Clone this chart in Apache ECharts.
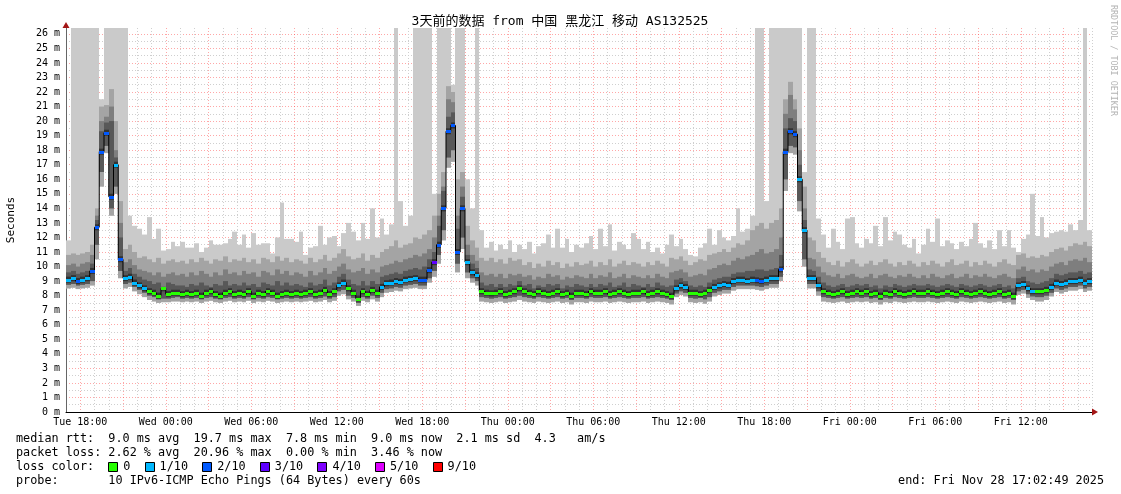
<!DOCTYPE html>
<html>
<head>
<meta charset="utf-8">
<script src="https://cdn.jsdelivr.net/npm/echarts@6/dist/echarts.min.js"></script>
<style>
html, body { margin: 0; padding: 0; background: #fff; }
#chart { width: 1121px; height: 494px; }
</style>
</head>
<body>
<div id="chart"></div>
<script>
// hours counted from Tue 00:00, 20 minute buckets over 3 days
const START_HOUR = 17;
const END_HOUR = 89;
const BUCKET_H = 1 / 3;
const dayNames = ['Tue', 'Wed', 'Thu', 'Fri'];

// median rtt (ms), one value per bucket
const median = [
  9.1, 9.2, 9.0, 9.1, 9.2, 9.7, 12.7, 17.9, 19.2, 14.8, 17.0, 10.5,
  9.2, 9.3, 8.9, 8.7, 8.5, 8.3, 8.2, 8.0, 8.5, 8.1, 8.2, 8.2,
  8.1, 8.2, 8.1, 8.2, 8.0, 8.2, 8.3, 8.1, 8.0, 8.2, 8.3, 8.1,
  8.2, 8.1, 8.3, 8.0, 8.2, 8.1, 8.3, 8.2, 8.0, 8.1, 8.2, 8.1,
  8.2, 8.1, 8.2, 8.3, 8.1, 8.2, 8.4, 8.1, 8.3, 8.7, 8.9, 8.5,
  8.2, 7.8, 8.3, 8.1, 8.4, 8.2, 8.6, 8.85, 8.9, 9.0, 8.95, 9.1,
  9.15, 9.2, 9.1, 9.1, 9.75, 10.3, 11.5, 14.0, 19.3, 19.7, 11.0, 14.0,
  10.3, 9.6, 9.4, 8.3, 8.2, 8.15, 8.2, 8.3, 8.1, 8.2, 8.3, 8.5,
  8.3, 8.2, 8.1, 8.3, 8.2, 8.1, 8.2, 8.3, 8.1, 8.2, 8.0, 8.2,
  8.2, 8.1, 8.3, 8.2, 8.2, 8.3, 8.1, 8.2, 8.3, 8.2, 8.1, 8.2,
  8.2, 8.3, 8.1, 8.2, 8.3, 8.2, 8.1, 8.0, 8.5, 8.7, 8.6, 8.2,
  8.2, 8.1, 8.2, 8.4, 8.6, 8.7, 8.8, 8.75, 9.0, 9.1, 9.1, 9.0,
  9.1, 9.05, 9.0, 9.1, 9.2, 9.2, 9.8, 17.9, 19.3, 19.1, 16.0, 12.5,
  9.2, 9.2, 8.7, 8.3, 8.2, 8.1, 8.2, 8.3, 8.1, 8.2, 8.3, 8.2,
  8.3, 8.1, 8.2, 8.0, 8.2, 8.1, 8.3, 8.2, 8.1, 8.2, 8.3, 8.2,
  8.2, 8.3, 8.2, 8.1, 8.2, 8.3, 8.2, 8.1, 8.3, 8.2, 8.1, 8.2,
  8.3, 8.2, 8.1, 8.2, 8.3, 8.1, 8.2, 8.0, 8.7, 8.8, 8.5, 8.3,
  8.3, 8.3, 8.4, 8.6, 8.9, 8.8, 8.9, 9.0, 9.0, 9.1, 8.9, 9.0
];

// lost pings out of 10
const lossCount = [
  1, 1, 2, 1, 1, 2, 2, 2, 2, 2, 1, 2,
  1, 1, 1, 1, 1, 0, 0, 0, 0, 0, 0, 0,
  0, 0, 0, 0, 0, 0, 0, 0, 0, 0, 0, 0,
  0, 0, 0, 0, 0, 0, 0, 0, 0, 0, 0, 0,
  0, 0, 0, 0, 0, 0, 0, 0, 0, 1, 1, 0,
  0, 0, 0, 0, 0, 0, 1, 1, 1, 1, 1, 1,
  1, 1, 2, 2, 2, 3, 2, 2, 2, 2, 2, 2,
  1, 1, 1, 0, 0, 0, 0, 0, 0, 0, 0, 0,
  0, 0, 0, 0, 0, 0, 0, 0, 0, 0, 0, 0,
  0, 0, 0, 0, 0, 0, 0, 0, 0, 0, 0, 0,
  0, 0, 0, 0, 0, 0, 0, 0, 1, 1, 1, 0,
  0, 0, 0, 0, 1, 1, 1, 1, 1, 1, 1, 1,
  1, 2, 2, 1, 1, 1, 2, 2, 2, 2, 1, 1,
  1, 1, 1, 0, 0, 0, 0, 0, 0, 0, 0, 0,
  0, 0, 0, 0, 0, 0, 0, 0, 0, 0, 0, 0,
  0, 0, 0, 0, 0, 0, 0, 0, 0, 0, 0, 0,
  0, 0, 0, 0, 0, 0, 0, 0, 1, 1, 1, 1,
  0, 0, 0, 1, 1, 1, 1, 1, 1, 1, 1, 1
];

// smoke: fastest ping
const rttMin = [
  8.5, 8.55, 8.45, 8.5, 8.55, 8.7, 10.5, 15.5, 17.8, 13.5, 15.0, 9.2,
  8.5, 8.6, 8.3, 8.1, 7.9, 7.7, 7.6, 7.5, 7.55, 7.55, 7.6, 7.6,
  7.55, 7.6, 7.55, 7.6, 7.5, 7.6, 7.65, 7.55, 7.5, 7.6, 7.65, 7.55,
  7.6, 7.55, 7.65, 7.5, 7.6, 7.55, 7.65, 7.6, 7.5, 7.55, 7.6, 7.55,
  7.6, 7.55, 7.6, 7.65, 7.55, 7.6, 7.7, 7.55, 7.65, 8.0, 8.1, 7.75,
  7.6, 7.3, 7.65, 7.55, 7.75, 7.6, 7.9, 8.2, 8.25, 8.35, 8.3, 8.45,
  8.5, 8.55, 8.45, 8.45, 8.9, 9.3, 10.2, 11.8, 16.8, 17.2, 9.6, 11.2,
  9.2, 8.9, 8.7, 7.6, 7.55, 7.5, 7.55, 7.6, 7.5, 7.55, 7.6, 7.7,
  7.6, 7.55, 7.5, 7.6, 7.55, 7.5, 7.55, 7.6, 7.5, 7.55, 7.4, 7.55,
  7.55, 7.5, 7.6, 7.55, 7.55, 7.6, 7.5, 7.55, 7.6, 7.55, 7.5, 7.55,
  7.55, 7.6, 7.5, 7.55, 7.6, 7.55, 7.5, 7.4, 7.9, 8.05, 7.95, 7.55,
  7.5, 7.55, 7.45, 7.6, 7.95, 8.05, 8.15, 8.15, 8.35, 8.45, 8.45, 8.45,
  8.45, 8.4, 8.35, 8.45, 8.55, 8.55, 9.0, 15.2, 17.8, 17.7, 13.8, 10.0,
  8.5, 8.5, 8.0, 7.6, 7.55, 7.5, 7.55, 7.6, 7.5, 7.55, 7.6, 7.55,
  7.6, 7.5, 7.55, 7.4, 7.55, 7.5, 7.6, 7.55, 7.5, 7.55, 7.6, 7.55,
  7.55, 7.6, 7.55, 7.5, 7.55, 7.6, 7.55, 7.5, 7.6, 7.55, 7.5, 7.55,
  7.6, 7.55, 7.5, 7.55, 7.6, 7.5, 7.55, 7.4, 8.05, 8.15, 7.85, 7.7,
  7.6, 7.6, 7.7, 7.95, 8.25, 8.15, 8.25, 8.35, 8.35, 8.45, 8.25, 8.35
];

// smoke: lower edge of the darker bands
const rttLow = [
  8.75, 8.8, 8.7, 8.75, 8.8, 9.0, 11.5, 16.5, 18.3, 14.0, 15.5, 9.7,
  8.8, 8.9, 8.6, 8.4, 8.2, 8.0, 7.9, 7.75, 7.8, 7.8, 7.85, 7.9,
  7.8, 7.85, 7.8, 7.85, 7.75, 7.85, 7.9, 7.8, 7.75, 7.85, 7.9, 7.8,
  7.85, 7.8, 7.9, 7.75, 7.85, 7.8, 7.9, 7.85, 7.75, 7.8, 7.85, 7.8,
  7.85, 7.8, 7.85, 7.9, 7.8, 7.85, 7.95, 7.8, 7.9, 8.3, 8.4, 8.0,
  7.85, 7.5, 7.9, 7.8, 8.0, 7.85, 8.2, 8.45, 8.5, 8.6, 8.55, 8.7,
  8.75, 8.8, 8.7, 8.7, 9.2, 9.7, 10.8, 12.5, 17.5, 18.0, 10.2, 12.0,
  9.6, 9.2, 9.0, 7.9, 7.85, 7.8, 7.85, 7.9, 7.8, 7.85, 7.9, 8.0,
  7.9, 7.85, 7.8, 7.9, 7.85, 7.8, 7.85, 7.9, 7.8, 7.85, 7.7, 7.85,
  7.85, 7.8, 7.9, 7.85, 7.85, 7.9, 7.8, 7.85, 7.9, 7.85, 7.8, 7.85,
  7.85, 7.9, 7.8, 7.85, 7.9, 7.85, 7.8, 7.7, 8.15, 8.3, 8.2, 7.85,
  7.8, 7.85, 7.75, 7.9, 8.2, 8.3, 8.4, 8.4, 8.6, 8.7, 8.7, 8.7,
  8.7, 8.65, 8.6, 8.7, 8.8, 8.8, 9.3, 16.0, 18.3, 18.2, 14.5, 10.5,
  8.8, 8.8, 8.3, 7.9, 7.85, 7.8, 7.85, 7.9, 7.8, 7.85, 7.9, 7.85,
  7.9, 7.8, 7.85, 7.7, 7.85, 7.8, 7.9, 7.85, 7.8, 7.85, 7.9, 7.85,
  7.85, 7.9, 7.85, 7.8, 7.85, 7.9, 7.85, 7.8, 7.9, 7.85, 7.8, 7.85,
  7.9, 7.85, 7.8, 7.85, 7.9, 7.8, 7.85, 7.7, 8.3, 8.4, 8.1, 7.95,
  7.9, 7.9, 8.0, 8.2, 8.5, 8.4, 8.5, 8.6, 8.6, 8.7, 8.5, 8.6
];

// smoke: upper edge of the dark band
const band1 = [
  9.6, 9.7, 9.5, 9.6, 9.7, 10.2, 13.2, 19.3, 19.9, 20.0, 17.5, 12.0,
  9.7, 9.9, 9.5, 9.3, 9.1, 9.0, 8.8, 8.9, 8.6, 8.9, 8.8, 8.7,
  8.7, 8.6, 8.8, 8.7, 8.9, 8.7, 8.6, 8.8, 8.7, 9.0, 8.7, 8.8,
  8.7, 8.9, 8.7, 8.8, 8.6, 8.9, 8.8, 8.7, 9.0, 8.7, 8.9, 8.7,
  8.8, 8.7, 8.6, 8.9, 8.7, 8.8, 9.1, 8.7, 8.9, 9.3, 9.5, 9.1,
  8.8, 8.7, 9.0, 8.7, 9.0, 8.8, 9.3, 9.4, 9.5, 9.6, 9.5, 9.7,
  9.8, 9.9, 9.8, 10.0, 10.5, 11.0, 12.8, 15.2, 20.3, 20.6, 12.6, 14.8,
  10.8, 10.2, 9.9, 8.9, 8.7, 8.8, 8.6, 8.8, 8.6, 8.8, 8.7, 9.0,
  8.7, 8.8, 8.5, 8.7, 8.6, 8.8, 8.7, 8.8, 8.5, 8.7, 8.6, 8.8,
  8.7, 8.6, 8.8, 8.6, 8.8, 8.7, 8.9, 8.6, 8.7, 8.9, 8.6, 8.8,
  8.7, 8.6, 8.8, 8.6, 8.9, 8.7, 8.6, 8.7, 9.1, 9.2, 9.0, 8.7,
  8.6, 8.7, 8.6, 8.9, 9.1, 9.2, 9.3, 9.3, 9.5, 9.6, 9.6, 9.7,
  9.7, 9.8, 9.8, 9.7, 9.8, 9.9, 10.8, 19.5, 20.2, 20.0, 17.0, 13.2,
  9.8, 9.7, 9.3, 8.9, 8.7, 8.6, 8.7, 8.8, 8.6, 8.7, 8.8, 8.7,
  8.8, 8.6, 8.7, 8.5, 8.7, 8.6, 8.8, 8.7, 8.6, 8.7, 8.8, 8.7,
  8.7, 8.8, 8.7, 8.6, 8.7, 8.8, 8.7, 8.6, 8.8, 8.7, 8.6, 8.7,
  8.8, 8.7, 8.6, 8.7, 8.8, 8.6, 8.7, 8.5, 9.2, 9.3, 9.0, 8.9,
  8.8, 8.9, 9.0, 9.2, 9.5, 9.4, 9.5, 9.6, 9.6, 9.7, 9.5, 9.6
];

// smoke: upper edge of the middle band
const band2 = [
  10.1, 10.2, 10.0, 10.2, 10.3, 10.8, 13.5, 20.0, 20.3, 21.0, 18.0, 13.0,
  10.3, 10.5, 10.1, 9.8, 9.7, 9.6, 9.4, 9.6, 9.3, 9.5, 9.6, 9.4,
  9.5, 9.3, 9.6, 9.4, 9.7, 9.5, 9.3, 9.6, 9.4, 9.8, 9.5, 9.6,
  9.4, 9.7, 9.5, 9.6, 9.3, 9.7, 9.6, 9.4, 9.8, 9.5, 9.7, 9.4,
  9.6, 9.5, 9.3, 9.7, 9.4, 9.6, 9.9, 9.5, 9.7, 10.0, 10.2, 9.8,
  9.6, 9.7, 9.9, 9.5, 9.8, 9.6, 10.0, 10.1, 10.2, 10.4, 10.3, 10.5,
  10.6, 10.8, 10.7, 10.9, 11.2, 12.0, 13.5, 15.5, 21.5, 21.3, 13.5, 15.5,
  11.5, 10.8, 10.4, 9.6, 9.4, 9.5, 9.3, 9.5, 9.2, 9.5, 9.4, 9.5,
  9.3, 9.4, 9.1, 9.3, 9.2, 9.5, 9.3, 9.4, 9.1, 9.3, 9.2, 9.4,
  9.3, 9.2, 9.5, 9.2, 9.4, 9.3, 9.6, 9.2, 9.3, 9.5, 9.2, 9.4,
  9.3, 9.2, 9.4, 9.2, 9.5, 9.3, 9.2, 9.6, 9.7, 9.8, 9.6, 9.3,
  9.4, 9.5, 9.4, 9.8, 9.9, 10.1, 10.2, 10.1, 10.4, 10.6, 10.5, 10.7,
  10.8, 11.0, 11.2, 10.9, 11.0, 11.2, 12.0, 20.5, 21.8, 20.8, 18.0, 14.0,
  10.6, 10.5, 10.0, 9.6, 9.4, 9.3, 9.5, 9.2, 9.4, 9.5, 9.3, 9.2,
  9.3, 9.5, 9.2, 9.4, 9.5, 9.3, 9.2, 9.4, 9.3, 9.5, 9.3, 9.2,
  9.4, 9.2, 9.5, 9.3, 9.2, 9.4, 9.5, 9.2, 9.3, 9.5, 9.2, 9.4,
  9.3, 9.5, 9.3, 9.2, 9.4, 9.5, 9.3, 9.2, 9.8, 10.0, 9.7, 9.8,
  9.6, 9.8, 9.7, 10.0, 10.2, 10.3, 10.1, 10.4, 10.5, 10.4, 10.6, 10.3
];

// smoke: upper edge of the light-mid band
const band3 = [
  10.8, 10.9, 10.8, 10.9, 11.0, 11.5, 14.0, 21.0, 21.1, 22.2, 20.0, 14.5,
  11.2, 11.5, 11.0, 10.6, 10.7, 10.5, 10.3, 10.6, 10.2, 10.4, 10.5, 10.3,
  10.4, 10.2, 10.5, 10.3, 10.6, 10.4, 10.2, 10.5, 10.4, 10.7, 10.3, 10.5,
  10.4, 10.6, 10.3, 10.5, 10.2, 10.6, 10.5, 10.3, 10.7, 10.4, 10.6, 10.3,
  10.5, 10.4, 10.2, 10.6, 10.3, 10.5, 10.8, 10.4, 10.6, 10.9, 11.2, 10.7,
  10.5, 10.6, 10.9, 10.4, 10.8, 10.6, 11.0, 11.2, 11.4, 11.8, 11.3, 11.5,
  11.6, 12.0, 11.9, 12.2, 12.5, 13.5, 15.0, 16.5, 22.4, 22.0, 16.0, 16.5,
  12.8, 11.8, 11.3, 10.6, 10.4, 10.6, 10.3, 10.5, 10.2, 10.6, 10.4, 10.5,
  10.1, 10.3, 9.9, 10.2, 10.0, 10.4, 10.1, 10.3, 9.9, 10.2, 10.0, 10.3,
  10.1, 10.2, 10.4, 10.0, 10.3, 10.1, 10.5, 10.0, 10.2, 10.4, 10.1, 10.3,
  10.2, 10.0, 10.3, 10.1, 10.4, 10.2, 10.0, 10.6, 10.5, 10.7, 10.4, 10.1,
  10.3, 10.5, 10.4, 10.8, 10.9, 11.0, 11.2, 11.0, 11.3, 11.6, 11.5, 11.8,
  12.5, 12.8, 13.0, 12.6, 13.0, 13.2, 14.0, 21.5, 22.7, 21.5, 19.5, 15.5,
  12.0, 11.8, 11.0, 10.6, 10.3, 10.1, 10.4, 10.0, 10.3, 10.5, 10.2, 10.0,
  10.2, 10.4, 10.1, 10.3, 10.5, 10.2, 10.0, 10.3, 10.1, 10.4, 10.2, 10.0,
  10.3, 10.1, 10.4, 10.2, 10.0, 10.3, 10.5, 10.1, 10.2, 10.4, 10.0, 10.3,
  10.1, 10.4, 10.2, 10.0, 10.3, 10.5, 10.2, 10.1, 10.8, 10.9, 10.6, 10.7,
  10.6, 10.8, 10.7, 11.0, 11.2, 11.3, 11.1, 11.4, 11.6, 11.5, 11.7, 11.4
];

// smoke: slowest ping (26.4 = off the top of the graph)
const rttMax = [
  11.8, 26.4, 26.4, 26.4, 26.4, 26.4, 26.4, 21.5, 26.4, 26.4, 26.4, 26.4,
  26.4, 13.5, 12.8, 12.6, 12.2, 13.4, 11.9, 12.6, 11.1, 11.2, 11.7, 11.4,
  11.7, 11.3, 11.3, 11.6, 11.0, 11.3, 11.8, 11.5, 11.5, 11.6, 11.9, 12.4,
  11.5, 12.2, 11.3, 12.3, 11.5, 11.6, 11.6, 10.9, 12.0, 14.4, 11.9, 11.9,
  11.7, 12.4, 10.8, 11.3, 11.4, 12.8, 11.5, 12.0, 12.1, 11.4, 12.3, 13.0,
  12.4, 11.8, 13.0, 11.9, 14.0, 12.0, 13.3, 12.2, 12.9, 26.4, 14.5, 12.8,
  13.5, 26.4, 26.4, 26.4, 26.4, 15.0, 26.4, 26.4, 26.4, 22.5, 26.4, 26.4,
  16.0, 14.0, 26.4, 12.5, 11.3, 11.7, 11.1, 11.5, 11.2, 11.8, 11.0, 11.5,
  11.2, 11.7, 10.9, 11.4, 11.6, 12.2, 11.3, 12.6, 11.3, 11.9, 11.0, 11.5,
  11.3, 11.6, 12.1, 11.2, 12.6, 11.4, 12.9, 11.1, 11.7, 11.5, 11.2, 12.3,
  11.9, 11.2, 11.7, 11.0, 11.3, 10.9, 11.5, 12.2, 11.4, 11.9, 11.2, 10.8,
  10.7, 11.3, 11.6, 12.6, 11.5, 12.5, 12.0, 11.8, 12.1, 14.0, 12.4, 12.6,
  13.5, 26.4, 26.4, 14.5, 26.4, 26.4, 26.4, 26.4, 26.4, 26.4, 26.4, 16.5,
  26.4, 26.4, 13.3, 12.2, 11.3, 12.6, 11.7, 11.2, 13.3, 13.4, 11.6, 11.3,
  11.9, 11.6, 12.8, 11.4, 13.4, 11.8, 12.4, 12.2, 11.5, 11.3, 11.9, 10.9,
  11.5, 12.6, 11.7, 13.3, 11.4, 11.8, 11.6, 11.2, 11.7, 11.4, 11.9, 13.0,
  11.6, 11.3, 11.8, 11.2, 12.5, 11.4, 12.5, 11.3, 11.0, 11.9, 12.2, 15.0,
  12.1, 13.4, 12.0, 12.3, 12.4, 12.5, 12.4, 12.9, 12.5, 13.2, 26.4, 12.5
];

const lossColors = { 0: '#26ff00', 1: '#00b8ff', 2: '#0059ff', 3: '#5e00ff', 4: '#7e00ff', 5: '#dd00ff', 9: '#ff0000' };
const lossLegend = [[0, '0'], [1, '1/10'], [2, '2/10'], [3, '3/10'], [4, '4/10'], [5, '5/10'], [9, '9/10']];

const titleText = '3天前的数据 from 中国 黑龙江 移动 AS132525';
const statLines = [
  'median rtt:  9.0 ms avg  19.7 ms max  7.8 ms min  9.0 ms now  2.1 ms sd  4.3   am/s',
  'packet loss: 2.62 % avg  20.96 % max  0.00 % min  3.46 % now',
  'loss color:',
  'probe:       10 IPv6-ICMP Echo Pings (64 Bytes) every 60s'
];
const endText = 'end: Fri Nov 28 17:02:49 2025';

const FONT = '"DejaVu Sans Mono", "Noto Sans CJK SC", monospace';
const CW = 7.1; // char width of the legend font
const GRID_GREY = '#cfcfcf';
const GRID_RED = 'rgba(255, 60, 60, 0.45)';

const buckets = median.map((m, i) => [
  START_HOUR + (i + 0.5) * BUCKET_H, rttMin[i], rttLow[i], band1[i], band2[i], band3[i], rttMax[i], m, lossCount[i]
]);

const smokeBands = [
  { from: 1, to: 6, color: '#cacaca' },
  { from: 1, to: 5, color: '#a4a4a4' },
  { from: 2, to: 4, color: '#7e7e7e' },
  { from: 2, to: 3, color: '#585858' }
];

// pixel edges of a bucket, snapped so neighbours share the same edge
function bucketEdges(api, i) {
  const left = Math.round(api.coord([START_HOUR + i * BUCKET_H, 0])[0]);
  const right = Math.round(api.coord([START_HOUR + (i + 1) * BUCKET_H, 0])[0]);
  return [left, right];
}

function renderSmoke(params, api) {
  const xc = api.value(0);
  const [left, right] = bucketEdges(api, params.dataIndex);
  const children = smokeBands.map(b => {
    const yTop = api.coord([xc, api.value(b.to)])[1];
    const yBot = api.coord([xc, api.value(b.from)])[1];
    return {
      type: 'rect',
      shape: { x: left, y: yTop, width: right - left, height: yBot - yTop },
      style: { fill: b.color }
    };
  });
  // darkest core hugging the median
  const ym = api.coord([xc, api.value(7)])[1];
  const coreTop = Math.max(ym - 3, api.coord([xc, api.value(3)])[1]);
  const coreBot = Math.min(ym + 3, api.coord([xc, api.value(2)])[1]);
  children.push({
    type: 'rect',
    shape: { x: left, y: coreTop, width: right - left, height: coreBot - coreTop },
    style: { fill: '#323232' }
  });
  return { type: 'group', children };
}

function renderMedian(params, api) {
  const [left, right] = bucketEdges(api, params.dataIndex);
  const y = api.coord([api.value(0), api.value(7)])[1];
  return {
    type: 'rect',
    shape: { x: left, y: Math.round(y) - 1, width: right - left, height: 3 },
    style: { fill: lossColors[api.value(8)] }
  };
}

function xLabel(v) {
  if (v % 6 !== 0) return '';
  const day = dayNames[Math.floor(v / 24)];
  const hh = String(v % 24).padStart(2, '0');
  return day + ' ' + hh + ':00';
}

// text block under the graph
const graphic = [
  { type: 'text', x: 560, y: 22, style: { text: titleText, font: '13px ' + FONT, fill: '#000', align: 'center', verticalAlign: 'middle', textAlign: 'center', textVerticalAlign: 'middle' } },
  { type: 'text', x: 1113, y: 5, rotation: -Math.PI / 2, style: { text: 'RRDTOOL / TOBI OETIKER', font: '8.4px ' + FONT, fill: '#b4b4b4', align: 'left', verticalAlign: 'middle', textAlign: 'left', textVerticalAlign: 'middle' } },
  { type: 'text', x: 1104, y: 481, style: { text: endText, font: '11.8px ' + FONT, fill: '#000', align: 'right', verticalAlign: 'middle', textAlign: 'right', textVerticalAlign: 'middle' } }
];
statLines.forEach((line, i) => {
  graphic.push({ type: 'text', x: 16, y: 439 + i * 14, style: { text: line, font: '11.8px ' + FONT, fill: '#000', align: 'left', verticalAlign: 'middle', textAlign: 'left', textVerticalAlign: 'middle' } });
});
let lx = 16 + 13 * CW;
lossLegend.forEach(([k, label]) => {
  graphic.push({ type: 'rect', shape: { x: Math.round(lx) + 0.5, y: 462.5, width: 9, height: 9 }, style: { fill: lossColors[k], stroke: '#000', lineWidth: 1 } });
  graphic.push({ type: 'text', x: lx + 15, y: 467, style: { text: label, font: '11.8px ' + FONT, fill: '#000', align: 'left', verticalAlign: 'middle', textAlign: 'left', textVerticalAlign: 'middle' } });
  lx += 15 + (label.length + 2) * CW;
});

const chart = echarts.init(document.getElementById('chart'), null, { renderer: 'canvas' });
const option = {
  animation: false,
  backgroundColor: '#fff',
  grid: { left: 66, right: 29, top: 28, bottom: 82, containLabel: false, outerBoundsMode: 'none' },
  xAxis: [
    {
      type: 'value', min: START_HOUR, max: END_HOUR, interval: 1,
      axisLine: { show: true, onZero: false, lineStyle: { color: '#000', width: 1 } },
      axisTick: { show: false },
      axisLabel: { formatter: xLabel, margin: 5, fontSize: 10, fontFamily: FONT, color: '#000', hideOverlap: false, showMinLabel: true, showMaxLabel: true },
      splitLine: { show: true, lineStyle: { color: [GRID_GREY, GRID_RED, GRID_GREY], type: [1, 2], width: 1 } }
    },
    {
      type: 'value', min: START_HOUR, max: END_HOUR, position: 'bottom',
      axisLine: { show: true, onZero: false, symbol: ['none', 'triangle'], symbolSize: [7, 6], symbolOffset: [0, 3], lineStyle: { color: '#a31515', width: 0 } },
      axisTick: { show: false }, axisLabel: { show: false }, splitLine: { show: false }
    }
  ],
  yAxis: [
    {
      type: 'value', min: 0, max: 26.4, interval: 0.5,
      name: 'Seconds', nameLocation: 'middle', nameGap: 49, nameRotate: 90,
      nameTextStyle: { fontSize: 11, fontFamily: FONT, color: '#000' },
      axisLine: { show: true, onZero: false, lineStyle: { color: '#666', width: 1 } },
      axisTick: { show: false },
      axisLabel: {
        formatter: v => (Math.abs(v - Math.round(v)) < 1e-6 ? Math.round(v) + ' m' : ''),
        margin: 6, fontSize: 10, fontFamily: FONT, color: '#000', showMaxLabel: false
      },
      splitLine: { show: true, showMaxLine: false, lineStyle: { color: [GRID_RED, GRID_GREY], type: [1, 2], width: 1 } }
    },
    {
      type: 'value', min: 0, max: 26.4, position: 'left',
      axisLine: { show: true, onZero: false, symbol: ['none', 'triangle'], symbolSize: [7, 6], symbolOffset: [0, 3], lineStyle: { color: '#a31515', width: 0 } },
      axisTick: { show: false }, axisLabel: { show: false }, splitLine: { show: false }
    }
  ],
  series: [
    {
      name: 'smoke', type: 'custom', renderItem: renderSmoke, data: buckets,
      encode: { x: 0, y: [1, 6] }, clip: true, z: 1, silent: true
    },
    {
      name: 'median line', type: 'line', step: 'middle', symbol: 'none',
      data: buckets.map(b => [b[0], b[7]]),
      lineStyle: { color: '#000', width: 1 }, z: 2, silent: true
    },
    {
      name: 'median', type: 'custom', renderItem: renderMedian, data: buckets,
      encode: { x: 0, y: 7 }, clip: true, z: 3, silent: true
    }
  ],
  graphic: graphic
};
chart.setOption(option);
</script>
</body>
</html>
